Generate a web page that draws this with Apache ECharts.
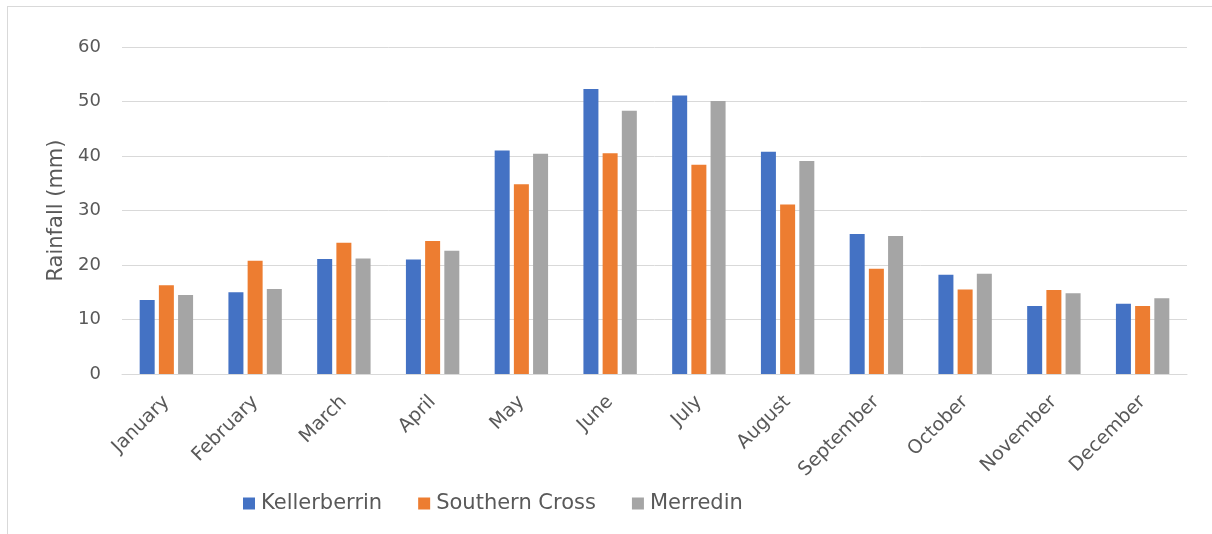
<!DOCTYPE html>
<html>
<head>
<meta charset="utf-8">
<script src="https://cdn.jsdelivr.net/npm/echarts@6/dist/echarts.min.js"></script>
<style>
  html, body { margin: 0; padding: 0; background: #fff; }
  #frame { position: absolute; left: 7px; top: 6px; width: 1220px; height: 540px; border: 1px solid #d9d9d9; }
  #rain { position: absolute; left: 0; top: 0; width: 1212px; height: 534px; }
</style>
</head>
<body>
<div id="frame"></div>
<div id="rain"></div>
<script>
  // 月份与各站点降雨量 (mm)
  var months = ['January', 'February', 'March', 'April', 'May', 'June', 'July', 'August', 'September', 'October', 'November', 'December'];
  var kellerberrin = [13.6, 15.0, 21.1, 21.0, 41.0, 52.3, 51.1, 40.8, 25.7, 18.2, 12.5, 12.9];
  var southernCross = [16.3, 20.8, 24.1, 24.4, 34.8, 40.5, 38.4, 31.1, 19.3, 15.5, 15.4, 12.5];
  var merredin = [14.5, 15.6, 21.2, 22.6, 40.4, 48.3, 50.1, 39.1, 25.3, 18.4, 14.8, 13.9];
  var seriesNames = ['Kellerberrin', 'Southern Cross', 'Merredin'];

  var font = '"DejaVu Sans", sans-serif';
  var textColor = '#595959';
  var chart = echarts.init(document.getElementById('rain'));

  function bar(name, data) {
    return {
      name: name,
      type: 'bar',
      barWidth: 15,
      barGap: '28%',
      data: data
    };
  }

  var option = {
    animation: false,
    color: ['#4472C4', '#ED7D31', '#A5A5A5'],
    textStyle: { fontFamily: font },
    grid: { left: 122, right: 25, top: 47, bottom: 160 },
    legend: {
      data: seriesNames,
      left: 238,
      top: 488,
      icon: 'rect',
      itemWidth: 12,
      itemHeight: 12,
      itemGap: 36,
      textStyle: { color: textColor, fontSize: 21, fontFamily: font, padding: [0, 0, 0, 1] }
    },
    xAxis: {
      type: 'category',
      data: months,
      axisTick: { show: false },
      axisLine: { lineStyle: { color: '#d9d9d9', width: 1 } },
      axisLabel: {
        rotate: 45,
        interval: 0,
        margin: 25,
        color: textColor,
        fontSize: 19,
        fontFamily: font
      }
    },
    yAxis: {
      type: 'value',
      min: 0,
      max: 60,
      interval: 10,
      name: 'Rainfall (mm)',
      nameLocation: 'middle',
      nameGap: 55,
      nameTextStyle: { color: textColor, fontSize: 21, fontFamily: font },
      axisLine: { show: false },
      axisTick: { show: false },
      axisLabel: { color: textColor, fontSize: 18, margin: 21, fontFamily: font },
      splitLine: { lineStyle: { color: '#d9d9d9', width: 1 } }
    },
    series: [
      bar(seriesNames[0], kellerberrin),
      bar(seriesNames[1], southernCross),
      bar(seriesNames[2], merredin)
    ]
  };
  chart.setOption(option);
  window.addEventListener('resize', function () {
    chart.resize();
  });
</script>
</body>
</html>
